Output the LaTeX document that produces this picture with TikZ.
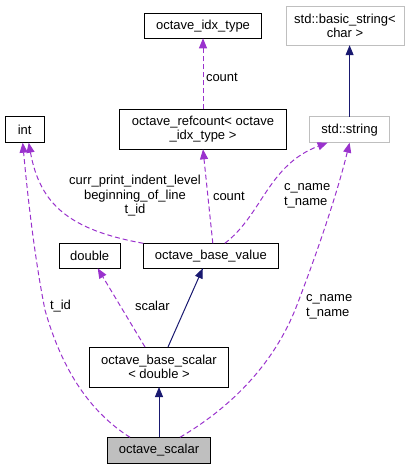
\documentclass[tikz,border=0pt]{standalone}
\usepackage{fontspec}
\setmainfont{Liberation Sans}
\usetikzlibrary{arrows.meta}
\definecolor{depc}{HTML}{9A32CD}
\definecolor{inhc}{HTML}{191970}
\definecolor{grayb}{HTML}{BFBFBF}
\begin{document}
\begin{tikzpicture}[x=1pt,y=-1pt,
  every node/.style={font=\fontsize{13}{14.5}\selectfont, inner sep=0pt, outer sep=0pt},
  cls/.style={draw=black, line width=1pt, fill=white, align=center},
  ext/.style={draw=grayb, line width=1pt, fill=white, align=center},
  dep/.style={draw=depc, dashed, dash pattern=on 5pt off 3pt, line width=1pt, -{Triangle[length=10pt,width=8pt]}},
  inh/.style={draw=inhc, line width=1pt, -{Triangle[length=10pt,width=8pt]}},
  lbl/.style={align=left, anchor=west}]
\useasboundingbox (0,0) rectangle (419,469);
% nodes
\node[cls, minimum width=117, minimum height=25] (idx) at (203,25.8) {octave\_idx\_type};
\node[ext, minimum width=118, minimum height=39] (bstr) at (345,25.7) {std::basic\_string<\\char >};
\node[cls, minimum width=39, minimum height=26] (int) at (24.7,129.7) {int};
\node[cls, minimum width=167, minimum height=40] (refc) at (203,129.3) {octave\_refcount< octave\\\_idx\_type >};
\node[ext, minimum width=80, minimum height=26] (str) at (349.6,129.7) {std::string};
\node[cls, minimum width=61, minimum height=25] (dbl) at (89.7,255.8) {double};
\node[cls, minimum width=135, minimum height=25] (bval) at (210.8,255.8) {octave\_base\_value};
\node[cls, minimum width=139, minimum height=40] (bsc) at (159,367) {octave\_base\_scalar\\< double >};
\node[cls, fill=grayb, minimum width=103, minimum height=26] (osc) at (159,450.3) {octave\_scalar};
% inheritance
\draw[inh] (str.north) -- (bstr.south -| str.north);
\draw[inh] ([xshift=9]bsc.north) -- ([xshift=-8]bval.south);
\draw[inh] (osc.north) -- (bsc.south);
% dependencies
\draw[dep] (refc.north) -- (idx.south);
\node[lbl] (l1) at (206,77) {count};
\draw[dep] (bval.north west) .. controls (70,230) and (40,205) .. ([xshift=4]int.south);
\node[align=center] (l2) at (135,196) {curr\_print\_indent\_level\\beginning\_of\_line\\t\_id};
\draw[dep] ([xshift=2]bval.north) -- (refc.south);
\node[lbl] (l3) at (213,196) {count};
\draw[dep] ([xshift=14]bval.north) .. controls (262,215) and (268,165) .. ([xshift=-22]str.south);
\node[lbl] (l4) at (284,196) {c\_name\\t\_name};
\draw[dep] ([xshift=-29]osc.north) .. controls (90,412) and (62,370) .. (45,310) .. controls (35,260) and (28,200) .. ([xshift=-2]int.south);
\node[lbl] (l5) at (50,306) {t\_id};
\draw[dep] ([xshift=-14]bsc.north) -- ([xshift=8]dbl.south);
\node[lbl] (l6) at (135,306) {scalar};
\draw[dep] ([xshift=21]osc.north) .. controls (240,402) and (278,355) .. (297,305) .. controls (320,245) and (338,190) .. ([xshift=0]str.south);
\node[lbl] (l7) at (306,307) {c\_name\\t\_name};
\end{tikzpicture}
\end{document}
